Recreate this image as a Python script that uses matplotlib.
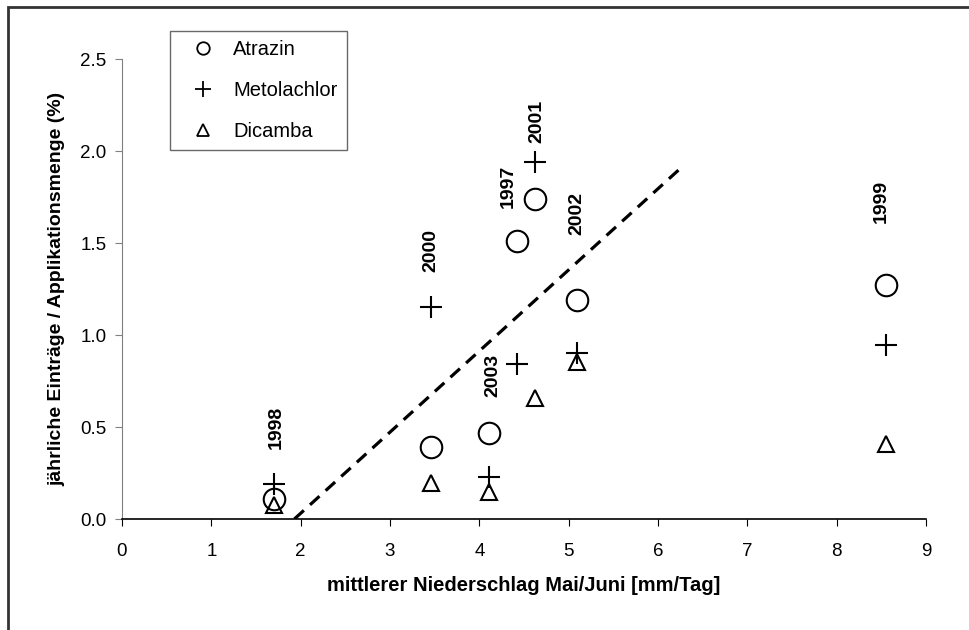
import numpy as np
import matplotlib
matplotlib.use("Agg")
import matplotlib.pyplot as plt
from matplotlib.lines import Line2D
from matplotlib.patches import Rectangle

plt.rcParams['font.family'] = ['Liberation Sans', 'DejaVu Sans']

# ----- data -----
years = ['1998', '2000', '2003', '1997', '2001', '2002', '1999']
rain = [1.70, 3.46, 4.11, 4.42, 4.62, 5.09, 8.55]          # mm/Tag
atrazin = [0.11, 0.39, 0.47, 1.51, 1.74, 1.19, 1.27]
metolachlor = [0.19, 1.15, 0.23, 0.84, 1.94, 0.90, 0.945]
dicamba = [0.075, 0.195, 0.145, None, 0.655, 0.855, 0.41]

# year label positions (x, y) next to the point groups
label_x = [1.73, 3.46, 4.15, 4.32, 4.64, 5.09, 8.50]
label_y = [0.50, 1.46, 0.78, 1.81, 2.16, 1.66, 1.725]

# dashed trend line
fit_slope = 0.441
fit_intercept = -0.851
fit_range = [1.93, 6.27]

fig = plt.figure(figsize=(9.7, 6.3), dpi=100)
ax = fig.add_axes([122 / 970, 1 - 519 / 630, (926 - 122) / 970, (519 - 59) / 630])

# outer frame of the picture
fig.patches.append(Rectangle((8 / 970, -0.02), 1.1, 1 - 7 / 630 + 0.02, transform=fig.transFigure,
                             fill=False, edgecolor='#333333', linewidth=2))

ax.plot(rain, atrazin, linestyle='none', marker='o', ms=15.5, mfc='none', mec='black', mew=1.5)
ax.plot(rain, metolachlor, linestyle='none', marker='+', ms=16, mec='black', mew=1.5)
dx = [r for r, d in zip(rain, dicamba) if d is not None]
dy = [d for d in dicamba if d is not None]
ax.plot(dx, dy, linestyle='none', marker='^', ms=11.5, mfc='none', mec='black', mew=1.5)

fx = np.array(fit_range)
ax.plot(fx, fit_slope * fx + fit_intercept, color='black', linestyle=(0, (4, 2.6)), linewidth=2.3)

for yr, lx, ly in zip(years, label_x, label_y):
    ax.text(lx, ly, yr, rotation=90, ha='center', va='center', fontsize=14, fontweight='bold')

ax.set_xlim(0, 9)
ax.set_ylim(0, 2.5)
ax.set_xticks(np.arange(0, 10, 1))
ax.set_yticks(np.arange(0, 2.51, 0.5))
ax.set_yticklabels(['%.1f' % v for v in np.arange(0, 2.51, 0.5)])

for s in ['top', 'right']:
    ax.spines[s].set_visible(False)
ax.spines['left'].set_color('#808080')
ax.spines['bottom'].set_color('black')
ax.spines['bottom'].set_linewidth(1.2)
ax.tick_params(axis='y', colors='#808080', labelcolor='black', labelsize=13.5, length=5, pad=6)
ax.tick_params(axis='x', colors='black', labelsize=13.5, length=5, pad=12)

ax.set_xlabel('mittlerer Niederschlag Mai/Juni [mm/Tag]', fontsize=14.5, fontweight='bold', labelpad=12)
ax.set_ylabel('jährliche Einträge / Applikationsmenge (%)', fontsize=14, fontweight='bold', labelpad=11)

handles = [
    Line2D([], [], linestyle='none', marker='o', ms=9, mfc='none', mec='black', mew=1.3),
    Line2D([], [], linestyle='none', marker='+', ms=11, mec='black', mew=1.3),
    Line2D([], [], linestyle='none', marker='^', ms=8, mfc='none', mec='black', mew=1.3),
]
leg = fig.legend(handles, ['Atrazin', 'Metolachlor', 'Dicamba'], loc='upper left',
                 bbox_to_anchor=(170 / 970, 1 - 31 / 630), fontsize=14.5, frameon=True,
                 fancybox=False, edgecolor='#444444', borderpad=0.45, labelspacing=1.1,
                 handlelength=2.4, handletextpad=0.3, borderaxespad=0)
leg.get_frame().set_linewidth(1.0)

fig.savefig('out.png', dpi=100)
